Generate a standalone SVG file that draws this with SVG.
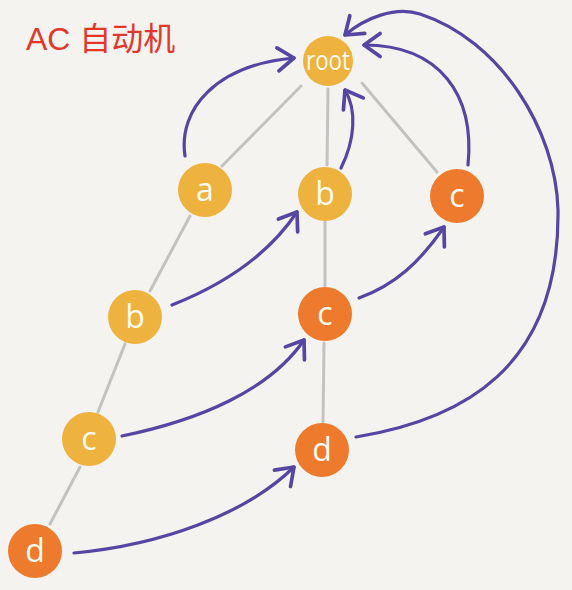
<svg xmlns="http://www.w3.org/2000/svg" width="572" height="590" viewBox="0 0 572 590">
<style>
.y{fill:#eeb23f}
.o{fill:#ee7a2e}
.lbl{font-family:"Open Sans","DejaVu Sans",sans-serif;fill:#fffaf0;text-anchor:middle;font-size:32px}
.tree{stroke:#c2c2c0;stroke-width:3;fill:none;stroke-linecap:round}
.fail{stroke:#5646a3;stroke-width:3.2;fill:none;stroke-linecap:round;marker-end:url(#ah)}
</style>
<defs>
<marker id="ah" markerUnits="userSpaceOnUse" markerWidth="30" markerHeight="30" refX="0" refY="0" viewBox="-16 -13 20 26" orient="auto">
<path d="M-14,-10 L0,0 L-14,10" fill="none" stroke="#5646a3" stroke-width="3.2" stroke-linecap="round" stroke-linejoin="round"/>
</marker>
</defs>
<rect width="572" height="590" fill="#f5f3ef"/>
<text x="26" y="50" font-family="Liberation Sans,'Noto Sans CJK SC',sans-serif" font-size="32" fill="#e2372b">AC 自动机</text>
<g id="tree-edges">
<line class="tree" x1="301" y1="86" x2="222" y2="166"/>
<line class="tree" x1="328" y1="89" x2="327" y2="165"/>
<line class="tree" x1="362" y1="83" x2="437" y2="172"/>
<line class="tree" x1="190" y1="216" x2="150" y2="291"/>
<line class="tree" x1="325" y1="222" x2="325" y2="286"/>
<line class="tree" x1="125" y1="344" x2="98" y2="412"/>
<line class="tree" x1="324" y1="343" x2="323" y2="422"/>
<line class="tree" x1="80" y1="467" x2="50" y2="524"/>
</g>
<g id="connectors">
<path class="fail" d="M185,156 C178,110 215,65 294,58"/>
<path class="fail" d="M341,168 C355,140 357,110 345,90"/>
<path class="fail" d="M468,165 C475,95 440,45 364,45"/>
<path class="fail" d="M356,437 C460,420 560,370 558,210 C556,130 500,40 420,14 C395,6 365,18 345,35"/>
<path class="fail" d="M172,305 C215,288 265,260 297,212"/>
<path class="fail" d="M359,298 C395,285 420,262 444,227"/>
<path class="fail" d="M122,436 C200,420 270,390 304,340"/>
<path class="fail" d="M74,553 C160,545 245,515 294,467"/>
</g>
<g id="node-root"><circle class="y" cx="328" cy="61" r="25"/><text class="lbl" x="328" y="70" style="font-size:27px" textLength="44" lengthAdjust="spacingAndGlyphs">root</text></g>
<g id="node-a"><circle class="y" cx="205" cy="190" r="27"/><text class="lbl" x="205" y="201">a</text></g>
<g id="node-b1"><circle class="y" cx="325" cy="194" r="27"/><text class="lbl" x="325" y="205">b</text></g>
<g id="node-c1"><circle class="o" cx="457" cy="196" r="27"/><text class="lbl" x="457" y="207">c</text></g>
<g id="node-b2"><circle class="y" cx="135" cy="317" r="27"/><text class="lbl" x="135" y="328">b</text></g>
<g id="node-c2"><circle class="o" cx="325" cy="314" r="27"/><text class="lbl" x="325" y="325">c</text></g>
<g id="node-c3"><circle class="y" cx="89" cy="439" r="27"/><text class="lbl" x="89" y="450">c</text></g>
<g id="node-d1"><circle class="o" cx="322" cy="450" r="27"/><text class="lbl" x="322" y="461">d</text></g>
<g id="node-d2"><circle class="o" cx="35" cy="551" r="27"/><text class="lbl" x="35" y="562">d</text></g>
</svg>
